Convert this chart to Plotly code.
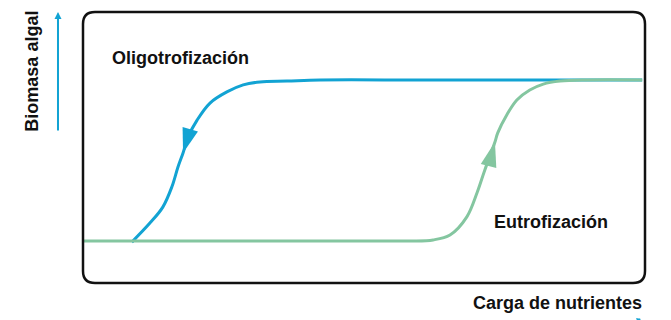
import plotly.graph_objects as go

# curves in chart units: x = nutrient load (0-100), y = algal biomass (0-100)
oligo_x = [99.5, 80.0, 60.0, 42.2, 36.3, 31.5, 28.5, 25.6, 22.6, 20.3, 18.7, 17.8, 16.9, 15.8, 14.2, 11.9, 8.7]
oligo_y = [74.9, 74.9, 74.9, 74.9, 74.5, 74.2, 73.1, 70.5, 66.4, 60.1, 53.9, 48.0, 42.8, 35.4, 28.0, 22.1, 15.1]

eutro_x = [0.0, 30.0, 50.0, 58.2, 62.3, 65.3, 68.3, 70.1, 71.5, 73.3, 73.8, 75.4, 77.2, 79.5, 81.9, 84.9, 89.7, 99.5]
eutro_y = [15.5, 15.5, 15.5, 15.5, 15.9, 17.7, 24.4, 33.2, 41.7, 52.0, 55.4, 62.0, 67.5, 71.2, 73.4, 74.5, 74.9, 74.9]

# arrow heads (tip position + direction in degrees)
oligo_arrow = dict(x=[17.8], y=[48.0], angle=[197])
eutro_arrow = dict(x=[73.3], y=[52.0], angle=[15])

BLUE = "#12a3d3"
GREEN = "#84c6a0"
TEXT = "#111111"
FONT = "Liberation Sans, Arial, sans-serif"

fig = go.Figure()

fig.add_trace(go.Scatter(
    x=oligo_x, y=oligo_y, mode="lines",
    line=dict(color=BLUE, width=3, shape="spline", smoothing=1.0),
    hoverinfo="skip", showlegend=False,
))
fig.add_trace(go.Scatter(
    x=eutro_x, y=eutro_y, mode="lines",
    line=dict(color=GREEN, width=3, shape="spline", smoothing=1.0),
    hoverinfo="skip", showlegend=False,
))
fig.add_trace(go.Scatter(
    x=oligo_arrow["x"], y=oligo_arrow["y"], mode="markers",
    marker=dict(symbol="arrow", size=26, color=BLUE, angle=oligo_arrow["angle"], line=dict(width=0)),
    hoverinfo="skip", showlegend=False,
))
fig.add_trace(go.Scatter(
    x=eutro_arrow["x"], y=eutro_arrow["y"], mode="markers",
    marker=dict(symbol="arrow", size=26, color=GREEN, angle=eutro_arrow["angle"], line=dict(width=0)),
    hoverinfo="skip", showlegend=False,
))

# rounded frame
rx, ry = 12 / 562, 12 / 271
frame = (f"M {rx},0 L {1-rx},0 Q 1,0 1,{ry} L 1,{1-ry} Q 1,1 {1-rx},1 "
         f"L {rx},1 Q 0,1 0,{1-ry} L 0,{ry} Q 0,0 {rx},0 Z")
fig.add_shape(type="path", path=frame, xref="paper", yref="paper",
              line=dict(color="#111111", width=2.5), layer="above")

fig.add_annotation(x=17.3, y=83.0, text="<b>Oligotrofización</b>", showarrow=False,
                   font=dict(size=18, color=TEXT, family=FONT))
fig.add_annotation(x=83.3, y=22.5, text="<b>Eutrofización</b>", showarrow=False,
                   font=dict(size=18, color=TEXT, family=FONT))

# axis titles and arrows outside the frame
fig.add_annotation(x=-0.0907, y=0.78, xref="paper", yref="paper", text="<b>Biomasa algal</b>",
                   xanchor="center", yanchor="middle",
                   textangle=-90, showarrow=False, font=dict(size=18, color=TEXT, family=FONT))
fig.add_annotation(x=-0.0445, y=1.0, xref="paper", yref="paper", ax=0, ay=120,
                   showarrow=True, arrowhead=2, arrowsize=0.7, arrowwidth=2, arrowcolor=BLUE, text="")
fig.add_annotation(x=0.845, y=-0.0738, xref="paper", yref="paper", text="<b>Carga de nutrientes</b>",
                   xanchor="center", yanchor="middle",
                   showarrow=False, font=dict(size=18, color=TEXT, family=FONT))
# x-axis arrow is cut by the bottom edge; only a stub of its head shows
fig.add_annotation(x=0.993, y=-0.14, xref="paper", yref="paper", ax=-4, ay=0,
                   showarrow=True, arrowhead=2, arrowsize=0.6, arrowwidth=1.5, arrowcolor=BLUE, text="")

# page body has an 8px margin, so the figure is shrunk and shifted by that much
fig.update_layout(
    width=663, height=312,
    margin=dict(l=75, r=26, t=4, b=37),
    plot_bgcolor="#ffffff", paper_bgcolor="#ffffff",
    showlegend=False,
)
fig.update_xaxes(range=[0, 100], visible=False, fixedrange=True)
fig.update_yaxes(range=[0, 100], visible=False, fixedrange=True)

fig.write_html("out.html")
